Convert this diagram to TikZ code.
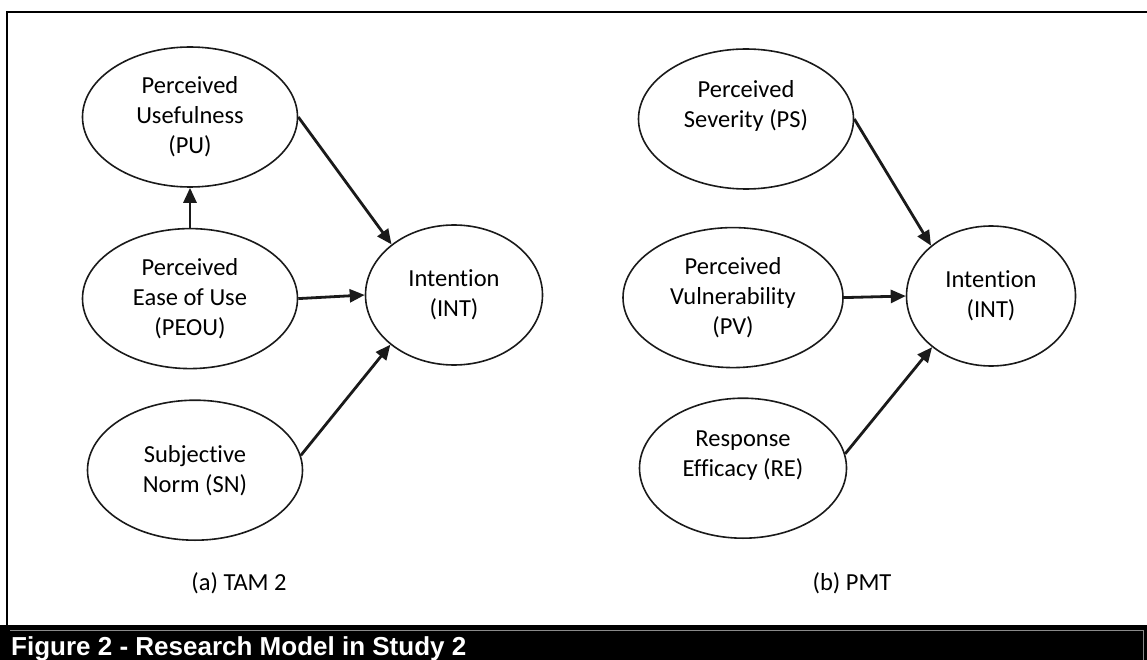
\documentclass[tikz,border=0pt]{standalone}
\usepackage{fontspec}
\setmainfont{Carlito}[Ligatures=NoCommon]
\newfontfamily\bannerfont{Liberation Sans}
\usetikzlibrary{positioning,arrows.meta,shapes.geometric}
\definecolor{inkBlack}{HTML}{1A1A1A}
\definecolor{rimGray}{HTML}{8A8A8A}
\tikzset{
    construct/.style={ellipse,draw=inkBlack,line width=1.6pt,fill=white,
        minimum width=215pt,minimum height=140pt,inner sep=0pt,align=center,
        font=\fontsize{24.5}{30}\selectfont},
    outcome/.style={construct,minimum width=174pt},
    arrow/.style={-{Triangle[length=15pt,width=13pt]},draw=inkBlack,line width=2.8pt},
    panel/.style={inner sep=0pt,font=\fontsize{24.5}{30}\selectfont},
    banner/.style={inner sep=0pt,text=white,font=\bannerfont\bfseries\fontsize{26}{30}\selectfont}
}

\begin{document}
\begin{tikzpicture}[x=1pt,y=-1pt]
    \useasboundingbox (0,0) rectangle (1147,660);
    % frame and caption bar
    \draw[line width=2.5pt] (1147,12) -- (7,12) -- (7,626);
    \fill[black] (0,625) rectangle (1147,660);
    \draw[rimGray,line width=1pt] (10,630) -- (1143,630) -- (1143,660);
    \node[banner,anchor=base west] (fig) at (11,655) {Figure 2 - Research Model in Study 2};

    % (a) TAM 2
    \node[construct] (pu) at (190,117) {Perceived\\Usefulness\\(PU)};
    \node[construct] (peou) [below=40pt of pu] {Perceived\\Ease of Use\\(PEOU)};
    \node[construct] (sn) [below=30pt of peou,xshift=5pt] {Subjective\\Norm (SN)};
    \node[outcome,minimum width=177pt] (intA) at (454,295) {Intention\\(INT)};
    \node[panel] (tam) at (239,583) {(a) TAM 2};
    \draw[arrow] (peou) -- (pu);
    \draw[arrow] (pu.east) -- (intA.141);
    \draw[arrow] (peou.east) -- (intA.west);
    \draw[arrow] (sn.8) -- (intA.218);

    % (b) PMT
    \node[construct] (ps) at (746,119) {Perceived\\Severity (PS)\\\mbox{}};
    \node[construct,minimum width=220pt] (pv) [below=37pt of ps,xshift=-13pt] {Perceived\\Vulnerability\\(PV)};
    \node[construct,minimum width=207pt] (re) [below=29pt of pv,xshift=10pt] {Response\\Efficacy (RE)\\\mbox{}};
    \node[outcome,minimum width=169pt] (intB) at (991,296) {Intention\\(INT)};
    \node[panel] (pmt) at (852,583) {(b) PMT};
    \draw[arrow] (ps.east) -- (intB.140);
    \draw[arrow] (pv.east) -- (intB.west);
    \draw[arrow] (re.8) -- (intB.221);
\end{tikzpicture}
\end{document}
